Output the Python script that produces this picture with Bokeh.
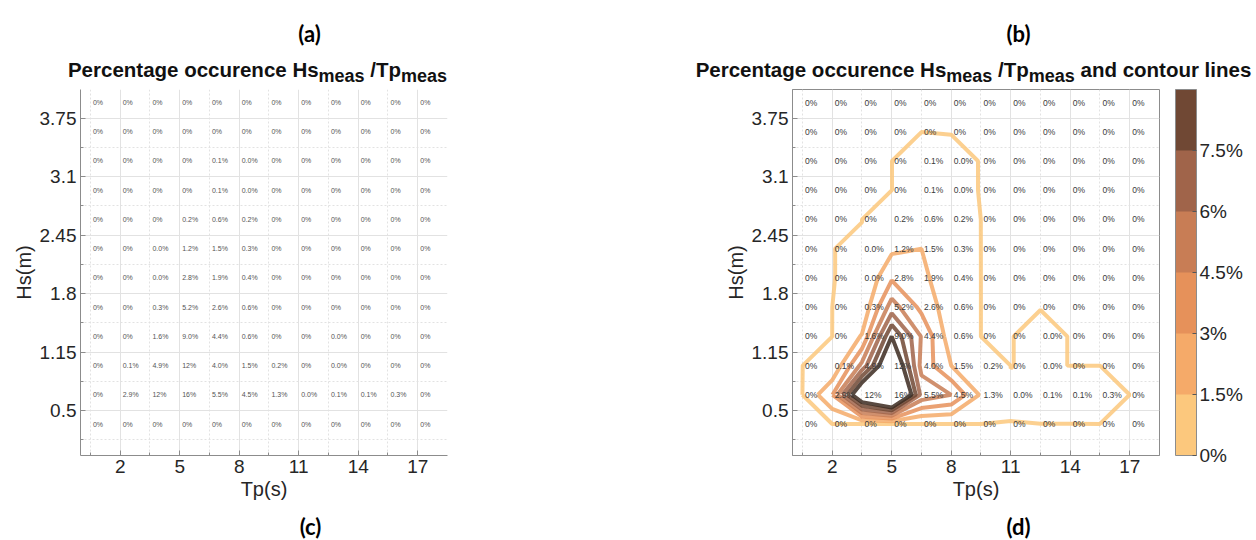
import numpy as np
from bokeh.plotting import figure
from bokeh.layouts import row, column
from bokeh.models import (ColumnDataSource, FixedTicker, CustomJSTickFormatter, Label,
                          LinearColorMapper, ColorBar, Range1d)
from bokeh.embed import file_html
from bokeh.resources import INLINE
from bokeh.core.properties import value

# ---------------- data ----------------
tp_values = [0.5, 2, 3.5, 5, 6.5, 8, 9.5, 11, 12.5, 14, 15.5, 17]          # Tp (s)
hs_values = [0.35, 0.675, 1.0, 1.325, 1.65, 1.975, 2.3, 2.625, 2.95, 3.275, 3.6, 3.925]  # Hs (m)
# percentage occurrence, one row per Hs (lowest first); 0.01 is shown as "0.0%"
occ_hs_035 = [0, 0, 0, 0, 0, 0, 0, 0, 0, 0, 0, 0]
occ_hs_068 = [0, 2.9, 12, 16, 5.5, 4.5, 1.3, 0.01, 0.1, 0.1, 0.3, 0]
occ_hs_100 = [0, 0.1, 4.9, 12, 4.0, 1.5, 0.2, 0, 0.01, 0, 0, 0]
occ_hs_133 = [0, 0, 1.6, 9.0, 4.4, 0.6, 0, 0, 0.01, 0, 0, 0]
occ_hs_165 = [0, 0, 0.3, 5.2, 2.6, 0.6, 0, 0, 0, 0, 0, 0]
occ_hs_198 = [0, 0, 0.01, 2.8, 1.9, 0.4, 0, 0, 0, 0, 0, 0]
occ_hs_230 = [0, 0, 0.01, 1.2, 1.5, 0.3, 0, 0, 0, 0, 0, 0]
occ_hs_263 = [0, 0, 0, 0.2, 0.6, 0.2, 0, 0, 0, 0, 0, 0]
occ_hs_295 = [0, 0, 0, 0, 0.1, 0.01, 0, 0, 0, 0, 0, 0]
occ_hs_328 = [0, 0, 0, 0, 0.1, 0.01, 0, 0, 0, 0, 0, 0]
occ_hs_360 = [0, 0, 0, 0, 0, 0, 0, 0, 0, 0, 0, 0]
occ_hs_393 = [0, 0, 0, 0, 0, 0, 0, 0, 0, 0, 0, 0]
occ_rows = [occ_hs_035, occ_hs_068, occ_hs_100, occ_hs_133, occ_hs_165, occ_hs_198,
            occ_hs_230, occ_hs_263, occ_hs_295, occ_hs_328, occ_hs_360, occ_hs_393]

x_ticks = [2, 5, 8, 11, 14, 17]
x_minor = [0.5, 3.5, 6.5, 9.5, 12.5, 15.5]
y_ticks = [0.5, 1.15, 1.8, 2.45, 3.1, 3.75]
y_minor = [0.175, 0.825, 1.475, 2.125, 2.775, 3.425]
contour_levels = [0.001, 1.5, 3, 4.5, 6, 7.5, 9]
cbar_ticks = [0, 1.5, 3, 4.5, 6, 7.5]

# ---------------- styles ----------------
line_colors = ["#FCC87D", "#F5AA69", "#E6915A", "#C87D55", "#A0644A", "#704834", "#3C2A20"]
cbar_colors = ["#FCC87D", "#F5AA69", "#E6915A", "#C87D55", "#A0644A", "#704834"]
FONT = "Liberation Sans"
XR, YR = 18.5, 4.07
FW, FH = 367, 366
TOP_H = 84          # height of the title strip
MAIN_H = 426        # height of the two chart panels
BOT_H = 30          # strip for (c), (d)
FRAME_TOP = 89      # page y of frame top
T_MAIN, T_SUB = 20.5, 18

BOLD_W = {'P': 667, 'e': 556, 'r': 389, 'c': 556, 'n': 611, 't': 333, 'a': 556, 'g': 611,
          ' ': 278, 'o': 611, 'u': 611, 'H': 722, 's': 556, 'm': 889, '/': 278, 'T': 611,
          'p': 611, 'd': 611, 'l': 278, 'i': 278}


def tw(s, size):
    return sum(BOLD_W.get(ch, 556) for ch in s) * size / 1000.0


def fmt(v):
    if v == 0:
        return "0%"
    if v >= 10:
        return "%.0f%%" % v
    return "%.1f%%" % v


def make_panel(left_border, with_contour):
    top_b = FRAME_TOP - TOP_H
    p = figure(width=628, height=MAIN_H, output_backend="svg", toolbar_location=None,
               x_range=Range1d(0, XR), y_range=Range1d(0, YR),
               min_border_left=left_border, min_border_right=628 - left_border - FW,
               min_border_top=top_b, min_border_bottom=MAIN_H - top_b - FH)
    p.background_fill_color = "white"
    p.border_fill_color = "white"
    p.outline_line_color = "#8c8c8c" if with_contour else None

    p.xaxis.ticker = FixedTicker(ticks=x_ticks, minor_ticks=x_minor)
    p.yaxis.ticker = FixedTicker(ticks=y_ticks, minor_ticks=y_minor)
    p.yaxis.formatter = CustomJSTickFormatter(code="return String(tick)")
    for ax in (p.xaxis[0], p.yaxis[0]):
        ax.axis_line_color = "#8c8c8c"
        ax.major_tick_line_color = "#8c8c8c"
        ax.minor_tick_line_color = "#8c8c8c"
        ax.major_tick_in = 5
        ax.major_tick_out = 0
        ax.minor_tick_in = 3
        ax.minor_tick_out = 0
        ax.major_label_text_font = FONT
        ax.major_label_text_font_size = "19px"
        ax.major_label_text_color = "#262626"
        ax.axis_label_text_font = FONT
        ax.axis_label_text_font_size = "20px"
        ax.axis_label_text_font_style = "normal"
        ax.axis_label_text_color = "#262626"
        ax.major_label_standoff = 4
        ax.axis_label_standoff = 2
    p.xaxis.axis_label = "Tp(s)"
    p.yaxis.axis_label = "Hs(m)"

    for g in (p.xgrid[0], p.ygrid[0]):
        g.grid_line_color = "#e2e2e2"
        g.minor_grid_line_color = "#e2e2e2"
        g.minor_grid_line_dash = "2 2"

    if with_contour:
        p.contour(x=tp_values, y=hs_values, z=np.array(occ_rows, dtype=float),
                  levels=contour_levels, line_color=line_colors, line_width=4, line_alpha=0.85)

    xs, ys, labels = [], [], []
    for r, hs in enumerate(hs_values):
        for c, tp in enumerate(tp_values):
            xs.append(tp)
            ys.append(hs)
            labels.append(fmt(occ_rows[r][c]))
    src = ColumnDataSource(dict(x=xs, y=ys, t=labels))
    p.text(x="x", y="y", text="t", source=src, x_offset=2.5,
           text_font=value(FONT),
           text_font_size=value("8.5px" if with_contour else "7px"),
           text_color="#3a3a3a" if with_contour else "#555555",
           text_align="left", text_baseline="middle")
    return p


pa = make_panel(80, False)
pb = make_panel(164, True)

mapper = LinearColorMapper(palette=cbar_colors, low=0, high=9)
cb = ColorBar(color_mapper=mapper, ticker=FixedTicker(ticks=cbar_ticks),
              formatter=CustomJSTickFormatter(code="return tick + '%'"),
              width=21, height=FH, location=(16, 0), padding=0, margin=0,
              major_label_text_font=FONT, major_label_text_font_size="19px",
              major_label_text_color="#262626", major_tick_line_color="#555555",
              major_tick_in=4, label_standoff=3, bar_line_color="#8c8c8c",
              border_line_color=None, background_fill_color=None)
pb.add_layout(cb, "right")


def strip(height, y0):
    s = figure(width=1256, height=height, output_backend="svg", toolbar_location=None,
               x_range=Range1d(0, 1256), y_range=Range1d(y0 + height, y0),
               x_axis_type=None, y_axis_type=None, min_border=0)
    s.outline_line_color = None
    s.background_fill_color = "white"
    s.border_fill_color = "white"
    return s


top = strip(TOP_H, 0)
bot = strip(BOT_H, TOP_H + MAIN_H)

# titles with subscripts
for center, extra in ((257, False), (973, True)):
    pieces = [("Percentage occurence Hs", T_MAIN, 0), ("meas", T_SUB, 1), (" /Tp", T_MAIN, 0),
              ("meas", T_SUB, 1)]
    if extra:
        pieces.append((" and contour lines", T_MAIN, 0))
    total = sum(tw(s, sz) for s, sz, _ in pieces)
    cx = center - total / 2.0
    for s, sz, sub in pieces:
        lead = len(s) - len(s.lstrip(" "))
        txt = s.lstrip(" ")
        top.add_layout(Label(x=cx + tw(" " * lead, sz), y=75 if sub else 69, text=txt,
                             text_font=FONT, text_font_size="%gpx" % sz, text_font_style="bold",
                             text_color="#111111", text_align="left", text_baseline="alphabetic"))
        cx += tw(s, sz)

for lab, lx, strip_fig, ly in (("(a)", 309, top, 33), ("(b)", 1018, top, 33),
                               ("(c)", 310, bot, 526), ("(d)", 1018, bot, 526)):
    strip_fig.add_layout(Label(x=lx, y=ly, text=lab, text_font="Lato", text_font_size="22px",
                               text_font_style="bold", text_color="#000000",
                               text_align="center", text_baseline="middle"))

layout = column(top, row(pa, pb), bot)
open("out.html", "w").write(file_html(layout, INLINE))
